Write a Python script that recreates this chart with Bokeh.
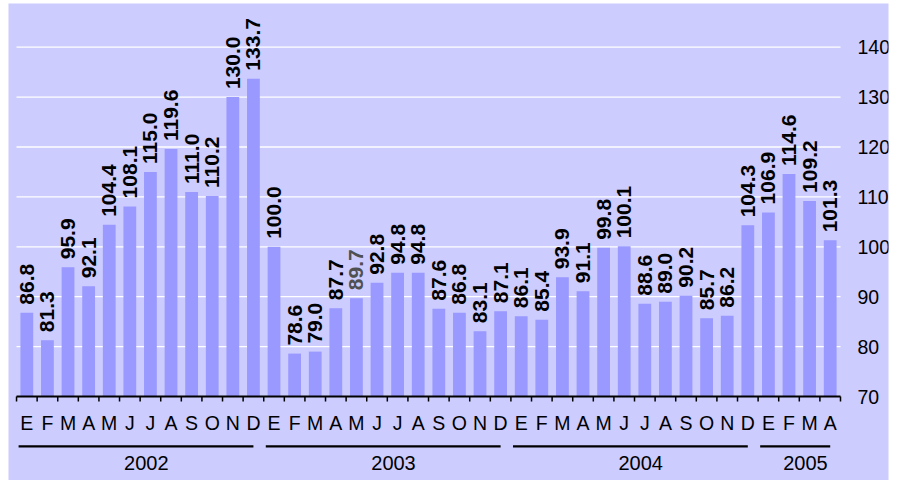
import math
from bokeh.plotting import figure
from bokeh.models import ColumnDataSource, Range1d
from bokeh.core.properties import value
from bokeh.embed import file_html
from bokeh.resources import INLINE

# ---------------- data ----------------
years = ["2002", "2003", "2004", "2005"]
months_per_year = [12, 12, 12, 4]
month_letters = ["E", "F", "M", "A", "M", "J", "J", "A", "S", "O", "N", "D"]
values_2002 = [86.8, 81.3, 95.9, 92.1, 104.4, 108.1, 115.0, 119.6, 111.0, 110.2, 130.0, 133.7]
values_2003 = [100.0, 78.6, 79.0, 87.7, 89.7, 92.8, 94.8, 94.8, 87.6, 86.8, 83.1, 87.1]
values_2004 = [86.1, 85.4, 93.9, 91.1, 99.8, 100.1, 88.6, 89.0, 90.2, 85.7, 86.2, 104.3]
values_2005 = [106.9, 114.6, 109.2, 101.3]
y_ticks = [70, 80, 90, 100, 110, 120, 130, 140]
base_value = 70
# ---------------------------------------

BG = "#ccccff"
BAR = "#9999ff"
FONT = "Liberation Sans"

values = values_2002 + values_2003 + values_2004 + values_2005
months = []
for m in months_per_year:
    months += month_letters[:m]
n = len(values)
xc = [i + 0.5 for i in range(n)]
labels = ["%.1f" % v for v in values]
label_colors = ["#000000"] * n
label_colors[values_2003.index(89.7) + 12] = "#505050"

src = ColumnDataSource(dict(x=xc, top=values, label=labels, color=label_colors, month=months))

p = figure(width=889, height=480, output_backend="svg", toolbar_location=None,
           x_range=Range1d(-0.39, 42.33), y_range=Range1d(53.17, 148.76),
           y_axis_location=None, x_axis_location=None,
           min_border_left=8, min_border_right=1, min_border_top=3, min_border_bottom=0)
p.background_fill_color = BG
p.border_fill_color = "#ffffff"
p.outline_line_color = None
p.xgrid.visible = False
p.ygrid.visible = False

# horizontal grid lines
grid_vals = [t for t in y_ticks if t > base_value]
p.segment(x0=[0] * len(grid_vals), y0=grid_vals, x1=[n] * len(grid_vals), y1=grid_vals,
          line_color="#ffffff", line_width=1.3)

# value-axis tick labels (right side)
p.text(x=[n] * len(y_ticks), y=y_ticks, text=[str(t) for t in y_ticks], x_offset=17,
       text_align="left", text_baseline="middle",
       text_font=value(FONT), text_font_size="19.5px", text_color="#000000")

# bars
p.vbar(x="x", top="top", bottom=base_value, width=0.62, source=src,
       fill_color=BAR, line_color=None)

# value labels
p.text(x="x", y="top", text="label", source=src, angle=math.pi / 2,
       text_align="left", text_baseline="middle", y_offset=-8,
       text_font=value(FONT), text_font_style="bold", text_font_size="21px",
       text_color="color")

# category axis line and ticks
bounds = list(range(n + 1))
p.segment(x0=[0], y0=[base_value], x1=[n], y1=[base_value], line_color="#000000", line_width=2)
p.ray(x=bounds, y=[base_value] * len(bounds), length=5, length_units="screen",
      angle=-math.pi / 2, line_color="#000000", line_width=1.5)

# month letters
p.text(x="x", y=base_value - 5.4, text="month", source=src,
       text_align="center", text_baseline="middle",
       text_font=value(FONT), text_font_size="19.5px", text_color="#000000")

# year groups
starts, ends = [], []
s = 0
for m in months_per_year:
    starts.append(s)
    ends.append(s + m)
    s += m
p.segment(x0=[a + 0.1 for a in starts], y0=[base_value - 10] * len(years),
          x1=[b - 0.5 for b in ends], y1=[base_value - 10] * len(years),
          line_color="#000000", line_width=2.2)
p.text(x=[(a + b) / 2 + 0.3 for a, b in zip(starts, ends)], y=[base_value - 13.4] * len(years),
       text=years, text_align="center", text_baseline="middle",
       text_font=value(FONT), text_font_size="20px", text_color="#000000")

open("out.html", "w").write(file_html(p, INLINE))
